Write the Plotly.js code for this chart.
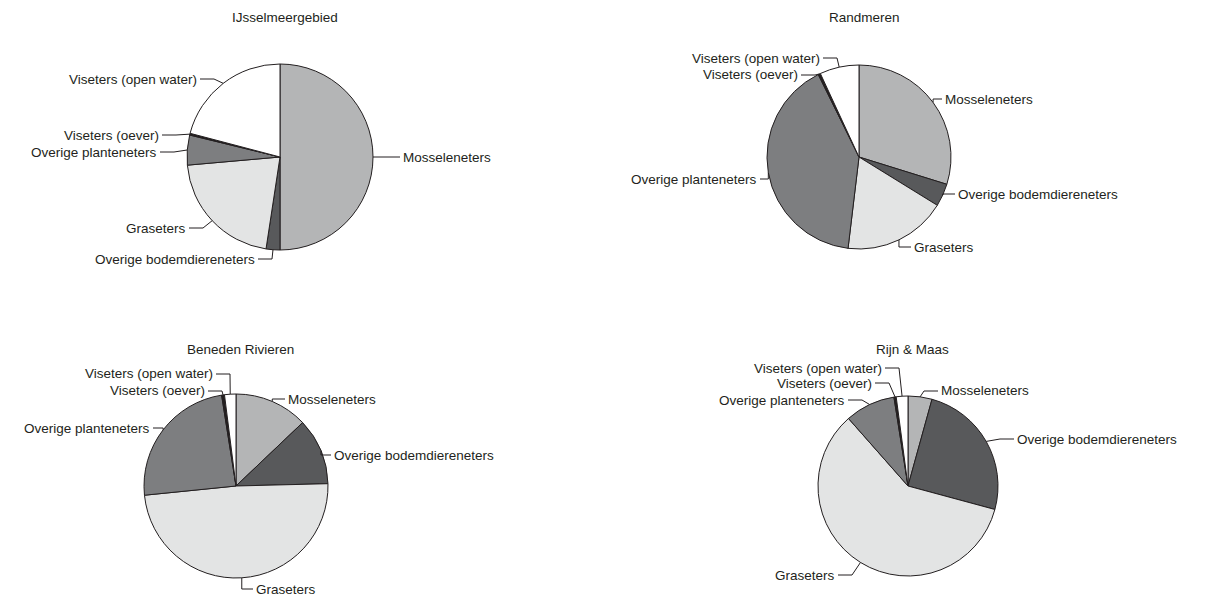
<!DOCTYPE html>
<html><head><meta charset="utf-8">
<script src="https://cdn.plot.ly/plotly-3.0.1.min.js"></script>
<style>html,body{margin:0;padding:0;background:#fff}</style>
</head><body><div id="chart" style="width:1220px;height:599px"></div>
<script>
// ---- data ----
const categories = ["Mosseleneters", "Overige bodemdiereneters", "Graseters", "Overige planteneters", "Viseters (oever)", "Viseters (open water)"];
const regions = ["IJsselmeergebied", "Randmeren", "Beneden Rivieren", "Rijn & Maas"];
const ijsselmeergebied = [50.0, 2.4, 21.2, 5.2, 0.3, 20.9];
const randmeren = [29.8, 4.0, 18.1, 40.8, 0.4, 6.9];
const benedenRivieren = [12.9, 11.7, 48.8, 24.1, 0.5, 2.0];
const rijnMaas = [4.3, 24.9, 59.3, 9.0, 0.4, 2.1];
const regionValues = [ijsselmeergebied, randmeren, benedenRivieren, rijnMaas];

// ---- styles / layout config ----
const sliceColors = ["#b4b5b6", "#58595b", "#e3e4e4", "#7d7e80", "#231f20", "#ffffff"];
const ink = "#231f20";
const W = 1220, H = 599;
// pie centre / radius (px), title position, label positions [x, y, side] (side 'l' = text starts at x, 'r' = text ends at x)
const pieLayout = [
  {cx: 280, cy: 157, r: 93, title: [285, 18],
   labels: [[402,157,'l'],[256,259,'r'],[187,228,'r'],[158,152,'r'],[160,135,'r'],[198,79,'r']]},
  {cx: 859, cy: 157, r: 92, title: [864, 18],
   labels: [[944,99,'l'],[957,194,'l'],[913,247,'l'],[758,179,'r'],[799,75,'r'],[821,58,'r']]},
  {cx: 236, cy: 486, r: 92, title: [240, 349],
   labels: [[287,399,'l'],[333,455,'l'],[255,589,'l'],[151,428,'r'],[206,391,'r'],[214,374,'r']]},
  {cx: 908, cy: 486, r: 90, title: [912, 349],
   labels: [[940,391,'l'],[1016,439,'l'],[836,575,'r'],[846,400,'r'],[873,383,'r'],[883,368,'r']]}
];

const px = x => x / W;
const py = y => 1 - y / H;
const font = {family: "Liberation Sans, Arial, sans-serif", size: 13.5, color: ink};

const traces = [], annotations = [], shapes = [];
regionValues.forEach((vals, i) => {
  const L = pieLayout[i];
  traces.push({
    type: "pie", labels: categories, values: vals, sort: false,
    direction: "clockwise", rotation: 0, textinfo: "none",
    marker: {colors: sliceColors, line: {color: ink, width: 1}},
    domain: {x: [px(L.cx - L.r), px(L.cx + L.r)], y: [py(L.cy + L.r), py(L.cy - L.r)]},
    showlegend: false, hoverinfo: "label+percent", name: regions[i]
  });
  annotations.push({text: regions[i], x: px(L.title[0]), y: py(L.title[1]), xref: "paper", yref: "paper",
    xanchor: "center", yanchor: "middle", showarrow: false, font: font});
  const total = vals.reduce((a, b) => a + b, 0);
  let cum = 0;
  vals.forEach((v, k) => {
    const theta = 2 * Math.PI * (cum + v / 2) / total;
    cum += v;
    const ex = L.cx + L.r * Math.sin(theta), ey = L.cy - L.r * Math.cos(theta);
    const [lx, ly, side] = L.labels[k];
    let endX, elbowX;
    if (side === 'l') { endX = lx - 2; elbowX = Math.max(lx - 16, ex); }
    else { endX = lx + 2; elbowX = Math.min(lx + 16, ex); }
    shapes.push({type: "path", xref: "paper", yref: "paper",
      path: `M ${px(ex)},${py(ey)} L ${px(elbowX)},${py(ly)} L ${px(endX)},${py(ly)}`,
      line: {color: ink, width: 1}});
    annotations.push({text: categories[k], x: px(side === 'l' ? lx - 1 : lx + 1), y: py(ly),
      xref: "paper", yref: "paper", xanchor: side === 'l' ? "left" : "right", yanchor: "middle",
      showarrow: false, font: font});
  });
});

Plotly.newPlot("chart", traces, {
  width: W, height: H, margin: {l: 0, r: 0, t: 0, b: 0},
  paper_bgcolor: "#ffffff", plot_bgcolor: "#ffffff",
  annotations: annotations, shapes: shapes, showlegend: false
}, {displayModeBar: false, staticPlot: true});
</script></body></html>
